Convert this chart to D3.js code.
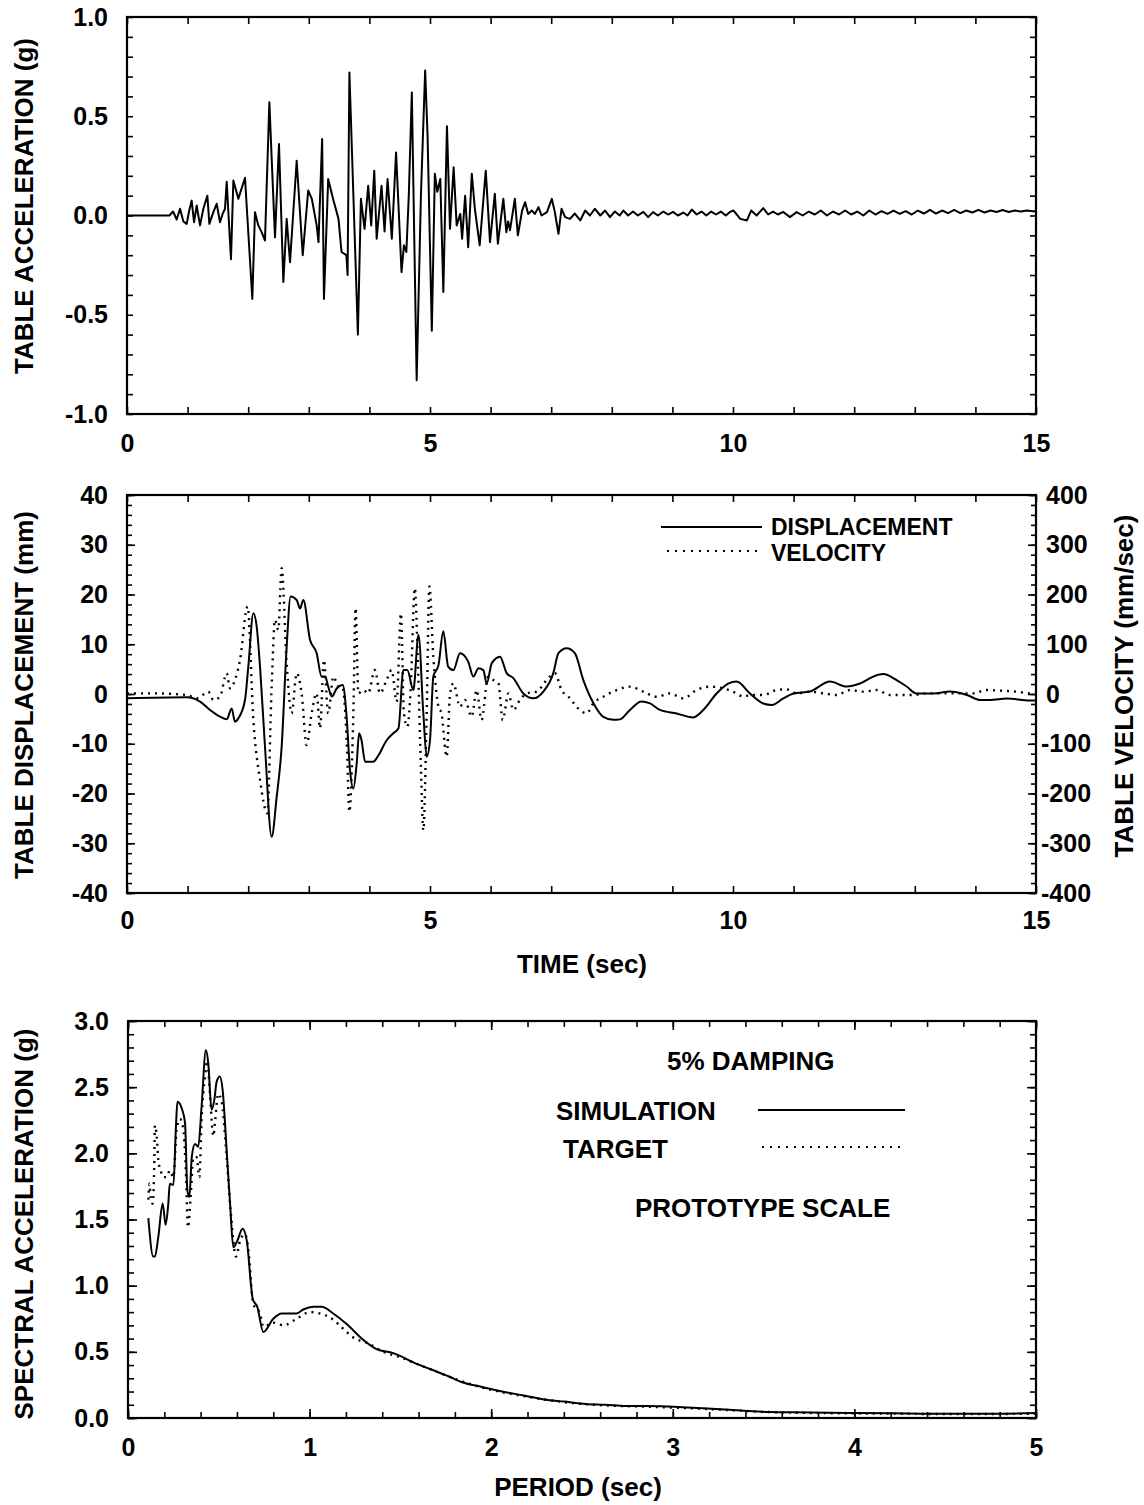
<!DOCTYPE html>
<html><head><meta charset="utf-8">
<script src="https://cdn.jsdelivr.net/npm/d3@7"></script>
<style>
body{margin:0;background:#fff}
text{font-family:"Liberation Sans",Arial,Helvetica,sans-serif;font-weight:bold;fill:#000}
</style>
</head><body>
<svg id="c" width="1144" height="1505"></svg>
<script>
// ---------- DATA ----------
const accTime = [
0,0.70,0.76,0.82,0.875,0.93,0.985,1.03,1.067,1.106,
1.15,1.205,1.26,1.326,1.359,1.425,1.48,1.535,1.58,1.617,
1.645,1.716,1.755,1.837,1.947,2.068,2.112,2.167,2.222,2.277,
2.349,2.442,2.508,2.58,2.635,2.69,2.80,2.90,2.99,3.05,
3.13,3.16,3.22,3.25,3.32,3.40,3.49,3.54,3.62,3.64,
3.67,3.81,3.86,3.92,3.98,4.03,4.08,4.12,4.20,4.25,
4.30,4.37,4.44,4.53,4.57,4.61,4.65,4.70,4.78,4.85,
4.92,4.96,5.03,5.08,5.12,5.17,5.22,5.28,5.33,5.39,
5.44,5.50,5.53,5.58,5.63,5.69,5.74,5.82,5.92,5.99,
6.07,6.12,6.21,6.26,6.29,6.32,6.40,6.45,6.52,6.57,
6.62,6.68,6.73,6.79,6.84,6.93,7.01,7.06,7.12,7.17,
7.23,7.31,7.39,7.48,7.56,7.64,7.72,7.81,7.89,7.97,
8.05,8.13,8.19,8.27,8.35,8.43,8.52,8.60,8.68,8.76,
8.85,8.93,9.01,9.09,9.18,9.25,9.32,9.40,9.48,9.56,
9.64,9.72,9.80,9.88,9.95,10.01,10.12,10.23,10.30,10.39,
10.50,10.58,10.66,10.74,10.83,10.94,11.05,11.15,11.25,11.35,
11.45,11.55,11.65,11.75,11.85,11.95,12.05,12.15,12.25,12.35,
12.45,12.55,12.65,12.75,12.85,12.95,13.05,13.15,13.25,13.35,
13.45,13.55,13.65,13.75,13.85,13.95,14.05,14.15,14.25,14.35,
14.45,14.55,14.65,14.75,14.85,14.95,15.0];
const accValue = [
0,0,0.02,-0.02,0.034,-0.03,-0.042,0.03,0.075,-0.034,
0.05,-0.05,0.034,0.10,-0.042,0.017,0.059,-0.034,0.01,0.034,
0.17,-0.22,0.176,0.084,0.19,-0.42,0.017,-0.05,-0.084,-0.126,
0.57,-0.11,0.36,-0.335,-0.017,-0.235,0.276,-0.20,0.126,0.084,
-0.05,-0.134,0.385,-0.42,0.184,0.084,-0.017,-0.184,-0.20,-0.30,
0.72,-0.60,0.084,-0.067,0.15,-0.05,0.226,-0.117,0.15,-0.08,
0.184,-0.117,0.318,-0.285,-0.15,-0.184,0.1,0.62,-0.83,0.1,
0.73,0.4,-0.58,0.21,0.12,0.184,-0.385,0.45,-0.067,0.243,
-0.05,0.008,-0.117,0.10,-0.16,0.21,0.034,-0.15,0.226,-0.134,
0.109,-0.142,0.084,-0.084,-0.03,-0.075,0.084,-0.10,0.025,0.067,
0.008,0.025,0.008,0.042,0,0.017,0.084,0.017,-0.092,0.034,
-0.008,-0.017,0.01,-0.025,0.025,0,0.034,0,0.025,-0.008,
0.02,0,0.025,0,0.02,0,0.018,-0.008,0.017,0,
0.02,0.005,0.018,0,0.015,0,0.03,0.005,0.02,0,
0.02,0.005,0.02,0,0.018,0.025,-0.017,-0.025,0.025,0,
0.037,0.005,0.02,0.005,0.018,-0.008,0.017,0,0.02,0.005,
0.025,0,0.02,0.005,0.025,0.005,0.02,0,0.025,0.005,
0.022,0.008,0.025,0.008,0.022,0.005,0.025,0.01,0.028,0.01,
0.025,0.012,0.028,0.012,0.025,0.015,0.028,0.015,0.025,0.018,
0.028,0.018,0.025,0.02,0.025,0.022,0.022];

const dispTime = [
0,0.985,1.205,1.37,1.535,1.645,1.727,1.782,1.837,1.947,
2.002,2.085,2.14,2.195,2.277,2.387,2.47,2.552,2.635,2.70,
2.80,2.855,2.91,3.02,3.13,3.21,3.27,3.32,3.38,3.46,
3.56,3.62,3.68,3.735,3.79,3.83,3.87,3.93,4.065,4.15,
4.285,4.395,4.48,4.56,4.625,4.725,4.81,4.89,4.945,5.0,
5.055,5.14,5.22,5.30,5.385,5.495,5.63,5.715,5.80,5.88,
5.935,6.02,6.155,6.265,6.375,6.54,6.705,6.87,7.035,7.12,
7.255,7.39,7.53,7.70,7.86,8.025,8.135,8.30,8.49,8.63,
8.795,9.07,9.345,9.51,9.73,9.92,10.06,10.28,10.50,10.64,
10.83,11.0,11.27,11.60,11.875,12.095,12.315,12.48,12.70,12.866,
13.03,13.31,13.58,13.86,14.08,14.24,14.52,14.9,15.0];
const dispValue = [
-0.87,-0.67,-1.54,-3.22,-4.56,-5.10,-2.89,-5.57,-4.90,-1.21,
5.50,16.24,13.56,5.50,-10.6,-28.7,-20.7,-10.6,9.53,19.6,
18.9,17.2,18.9,10.9,8.2,3.5,3.5,1.5,-0.5,1.1,
1.8,-3.9,-15.3,-19.0,-14.0,-7.9,-9.3,-13.6,-13.6,-12.3,
-9.3,-7.9,-6.9,4.8,4.8,0.8,11.9,-3.9,-12.6,-9.3,
3.5,5.8,12.6,5.5,4.8,8.2,6.5,3.5,5.2,4.8,
2.1,6.2,7.5,4.2,3.2,0.1,-0.87,0.5,4.2,8.2,
9.2,8.2,2.8,-1.9,-4.6,-5.2,-5.1,-3.2,-1.5,-1.9,
-3.2,-3.9,-4.7,-3.2,0.1,2.1,2.5,0.1,-1.9,-2.2,
-0.9,0.1,0.5,2.5,1.5,2.1,3.5,4.0,2.8,1.5,
0.1,0.1,0.5,-0.2,-1.2,-1.2,-0.9,-1.3,-1.3];

const velTime = [
0,0.435,0.985,1.15,1.287,1.342,1.425,1.535,1.645,1.70,
1.782,1.865,1.99,2.085,2.195,2.316,2.387,2.442,2.497,2.552,
2.635,2.717,2.80,2.882,2.965,3.047,3.13,3.185,3.25,3.32,
3.405,3.487,3.56,3.625,3.67,3.735,3.773,3.817,3.90,3.98,
4.09,4.175,4.285,4.367,4.45,4.52,4.57,4.626,4.68,4.75,
4.80,4.85,4.89,4.945,4.99,5.055,5.14,5.19,5.275,5.33,
5.385,5.495,5.577,5.687,5.77,5.85,5.96,6.045,6.128,6.20,
6.293,6.375,6.485,6.595,6.76,6.925,7.063,7.17,7.283,7.475,
7.585,7.695,7.86,8.08,8.30,8.52,8.74,8.96,9.18,9.40,
9.62,9.84,10.06,10.17,10.28,10.50,10.72,10.885,11.05,11.27,
11.49,11.71,11.93,12.15,12.37,12.59,12.976,13.196,13.58,13.966,
14.186,14.41,14.68,14.9,15.0];
const velValue = [
1.3,1.3,-2,-8.7,1.3,4.7,-12,-5.4,41.6,11.4,
28.2,68.5,176,-52,-173,-240,14.8,149,129,253,
61.7,-38.9,41.6,1.3,-102.7,-38.9,1.3,-69,68.5,-38.9,
34.9,14.8,11.4,-92.6,-237,-38.9,172.5,1.3,8,1.3,
48.3,1.3,28.2,48.3,-15.4,162,-38.9,-65.8,8,212.8,
61.7,-146,-274,-38.9,216,75,-25.5,-38.9,-126,-2,
21.5,-25.5,-12,-45.6,8,-52.3,34.9,28.2,21.5,-52.3,
1.3,-32.2,-12,1.3,4.7,28.2,41.6,8,-5.4,-32.2,
-38.9,-18.8,-5.4,8,14.8,4.7,-5.4,1.3,-8.7,8,
14.8,11.4,1.3,-5.4,-2,-2,8,9.4,1.3,4.7,
1.3,-2,8,4.7,8,-2,-2,1.3,1.3,1.3,
8,6.7,4.7,1.3,1.3];

const simPeriod = [
0.112,0.139,0.148,0.167,0.191,0.207,0.222,0.23,0.25,0.264,
0.272,0.296,0.314,0.327,0.338,0.351,0.369,0.387,0.405,0.429,
0.442,0.46,0.475,0.488,0.506,0.521,0.543,0.562,0.58,0.602,
0.631,0.654,0.687,0.712,0.745,0.80,0.846,0.929,0.965,1.021,
1.066,1.13,1.204,1.296,1.369,1.461,1.498,1.571,1.663,1.773,
1.84,1.95,2.06,2.18,2.29,2.40,2.52,2.63,2.74,2.86,
2.97,3.08,3.19,3.31,3.42,3.53,3.76,3.99,4.21,4.44,
4.66,5.0];
const simSa = [
1.51,1.22,1.22,1.37,1.62,1.46,1.62,1.77,1.76,2.20,
2.39,2.34,2.23,1.72,1.67,1.97,2.07,2.05,2.35,2.78,
2.68,2.33,2.40,2.54,2.58,2.48,2.03,1.62,1.29,1.34,
1.43,1.34,0.90,0.84,0.65,0.75,0.79,0.79,0.82,0.84,
0.84,0.79,0.71,0.59,0.52,0.49,0.47,0.42,0.37,0.31,
0.27,0.235,0.20,0.17,0.14,0.124,0.106,0.10,0.09,0.09,
0.087,0.08,0.072,0.062,0.052,0.045,0.042,0.037,0.035,0.032,
0.032,0.037];

const targetPeriod = [
0.112,0.118,0.125,0.136,0.145,0.148,0.158,0.167,0.18,0.194,
0.213,0.23,0.25,0.268,0.286,0.305,0.32,0.33,0.345,0.36,
0.378,0.393,0.405,0.424,0.437,0.451,0.47,0.48,0.497,0.516,
0.54,0.565,0.595,0.617,0.644,0.663,0.69,0.727,0.745,0.80,
0.855,0.929,1.002,1.057,1.112,1.158,1.204,1.25,1.314,1.406,
1.498,1.589,1.681,1.773,1.95,2.18,2.40,2.63,2.86,3.08,
3.31,3.53,3.76,3.99,4.21,4.44,4.66,5.0];
const targetSa = [
1.65,1.77,1.67,1.62,1.95,2.21,2.13,1.95,1.87,1.82,
1.82,1.87,1.82,2.18,2.26,2.18,1.82,1.44,1.67,1.97,
1.97,1.82,2.25,2.58,2.70,2.45,2.13,2.25,2.45,2.39,
2.03,1.57,1.22,1.34,1.39,1.27,0.86,0.79,0.69,0.72,
0.70,0.75,0.80,0.79,0.76,0.71,0.65,0.60,0.57,0.50,
0.46,0.41,0.36,0.31,0.23,0.165,0.12,0.095,0.085,0.075,
0.06,0.045,0.038,0.035,0.033,0.03,0.03,0.032];

// tick labels
const timeTicks = [0,5,10,15];
const accTicks = [-1.0,-0.5,0.0,0.5,1.0];
const dispTicks = [-40,-30,-20,-10,0,10,20,30,40];
const velTicks = [-400,-300,-200,-100,0,100,200,300,400];
const periodTicks = [0,1,2,3,4,5];
const saTicks = [0.0,0.5,1.0,1.5,2.0,2.5,3.0];

// ---------- DRAWING ----------
const svg = d3.select("#c");
const TICK_FS = 25, TITLE_FS = 26;

function tickSet(gen, scale, vals, len, tx, ty){
  svg.append("g").attr("transform",`translate(${tx},${ty})`)
    .call(gen(scale).tickValues(vals).tickSizeInner(-len).tickSizeOuter(0).tickFormat(""))
    .call(g=>{g.select(".domain").remove();
      g.selectAll("line").attr("stroke","#000").attr("stroke-width",1.6);});
}
function labelSet(gen, scale, vals, fmt, pad, tx, ty){
  return svg.append("g").attr("transform",`translate(${tx},${ty})`)
    .call(gen(scale).tickValues(vals).tickSize(0).tickPadding(pad).tickFormat(fmt))
    .call(g=>{g.select(".domain").remove();
      g.attr("font-size",TICK_FS).attr("font-family",null);
      g.selectAll("text").attr("fill","#000");});
}
function frame(x0,x1,y0,y1){
  svg.append("rect").attr("x",x0).attr("y",y0).attr("width",x1-x0).attr("height",y1-y0)
    .attr("fill","none").attr("stroke","#000").attr("stroke-width",2.2);
}
function vtitle(txt,cx,cy){
  svg.append("text").attr("transform",`translate(${cx},${cy}) rotate(-90)`)
    .attr("text-anchor","middle").attr("dominant-baseline","central")
    .attr("font-size",TITLE_FS).text(txt);
}
function htext(txt,x,y,anchor,fs){
  svg.append("text").attr("x",x).attr("y",y).attr("text-anchor",anchor||"start")
    .attr("font-size",fs||TITLE_FS).text(txt);
}
const fmt1 = d => d.toFixed(1);
const fmt0 = d => String(d);

// ---- Panel 1 ----
{
  const X0=127,X1=1036,Y0=17,Y1=414;
  const x=d3.scaleLinear().domain([0,15]).range([X0,X1]);
  const y=d3.scaleLinear().domain([-1,1]).range([Y1,Y0]);
  const line=d3.line().x(i=>x(accTime[i])).y(i=>y(accValue[i]));
  svg.append("path").attr("d",line(d3.range(accTime.length)))
    .attr("fill","none").attr("stroke","#000").attr("stroke-width",2).attr("stroke-linejoin","round");
  const xt=d3.range(0,15.001,1), yt=d3.range(-10,10.5,1).map(v=>v/10);
  tickSet(d3.axisBottom,x,xt,7,0,Y1);
  tickSet(d3.axisTop,x,xt,7,0,Y0);
  tickSet(d3.axisLeft,y,yt,6,X0,0);
  tickSet(d3.axisRight,y,yt,6,X1,0);
  frame(X0,X1,Y0,Y1);
  labelSet(d3.axisLeft,y,accTicks,fmt1,19,X0,0);
  labelSet(d3.axisBottom,x,timeTicks,fmt0,20,0,Y1);
  vtitle("TABLE ACCELERATION (g)",24,206);
}

// ---- Panel 2 ----
{
  const X0=127,X1=1036,Y0=495,Y1=893;
  const x=d3.scaleLinear().domain([0,15]).range([X0,X1]);
  const y=d3.scaleLinear().domain([-40,40]).range([Y1,Y0]);
  const yv=d3.scaleLinear().domain([-400,400]).range([Y1,Y0]);
  const dl=d3.line().curve(d3.curveMonotoneX).x(i=>x(dispTime[i])).y(i=>y(dispValue[i]));
  const vl=d3.line().curve(d3.curveMonotoneX).x(i=>x(velTime[i])).y(i=>yv(velValue[i]));
  svg.append("path").attr("d",vl(d3.range(velTime.length)))
    .attr("fill","none").attr("stroke","#000").attr("stroke-width",2.4).attr("stroke-dasharray","2,5");
  svg.append("path").attr("d",dl(d3.range(dispTime.length)))
    .attr("fill","none").attr("stroke","#000").attr("stroke-width",2).attr("stroke-linejoin","round");
  const xt=d3.range(0,15.001,1);
  const minor=d3.range(-40,40.1,2), major=d3.range(-40,40.1,10);
  const vminor=d3.range(-400,401,20), vmajor=d3.range(-400,401,100);
  tickSet(d3.axisBottom,x,xt,7,0,Y1);
  tickSet(d3.axisTop,x,xt,7,0,Y0);
  tickSet(d3.axisLeft,y,minor,5,X0,0);
  tickSet(d3.axisLeft,y,major,8,X0,0);
  tickSet(d3.axisRight,yv,vminor,5,X1,0);
  tickSet(d3.axisRight,yv,vmajor,8,X1,0);
  frame(X0,X1,Y0,Y1);
  labelSet(d3.axisLeft,y,dispTicks,fmt0,19,X0,0);
  const rl=labelSet(d3.axisRight,yv,velTicks,fmt0,8,X1,0);
  rl.selectAll("text").attr("dx",d=>d<0?-3:2);
  labelSet(d3.axisBottom,x,timeTicks,fmt0,18,0,Y1);
  vtitle("TABLE DISPLACEMENT (mm)",24,695);
  vtitle("TABLE VELOCITY (mm/sec)",1124,686);
  htext("TIME (sec)",582,973,"middle");
  // legend
  svg.append("line").attr("x1",661).attr("x2",762).attr("y1",527).attr("y2",527)
    .attr("stroke","#000").attr("stroke-width",2);
  svg.append("line").attr("x1",667).attr("x2",757).attr("y1",551).attr("y2",551)
    .attr("stroke","#000").attr("stroke-width",2.2).attr("stroke-dasharray","2,6");
  htext("DISPLACEMENT",771,535,"start",23);
  htext("VELOCITY",771,561,"start",23);
}

// ---- Panel 3 ----
{
  const X0=128,X1=1036,Y0=1021,Y1=1418;
  const x=d3.scaleLinear().domain([0,5]).range([X0,X1]);
  const y=d3.scaleLinear().domain([0,3]).range([Y1,Y0]);
  const sl=d3.line().curve(d3.curveMonotoneX).x(i=>x(simPeriod[i])).y(i=>y(simSa[i]));
  const tl=d3.line().curve(d3.curveMonotoneX).x(i=>x(targetPeriod[i])).y(i=>y(targetSa[i]));
  svg.append("path").attr("d",tl(d3.range(targetPeriod.length)))
    .attr("fill","none").attr("stroke","#000").attr("stroke-width",2.4).attr("stroke-dasharray","2,5");
  svg.append("path").attr("d",sl(d3.range(simPeriod.length)))
    .attr("fill","none").attr("stroke","#000").attr("stroke-width",2).attr("stroke-linejoin","round");
  const xminor=d3.range(0,26,1).map(v=>v/5), xmajor=d3.range(0,5.001,1);
  const yminor=d3.range(0,31,1).map(v=>v/10), ymajor=d3.range(0,3.001,0.5);
  tickSet(d3.axisBottom,x,xminor,6,0,Y1);
  tickSet(d3.axisBottom,x,xmajor,9,0,Y1);
  tickSet(d3.axisTop,x,xminor,6,0,Y0);
  tickSet(d3.axisTop,x,xmajor,9,0,Y0);
  tickSet(d3.axisLeft,y,yminor,6,X0,0);
  tickSet(d3.axisLeft,y,ymajor,9,X0,0);
  tickSet(d3.axisRight,y,yminor,6,X1,0);
  tickSet(d3.axisRight,y,ymajor,9,X1,0);
  frame(X0,X1,Y0,Y1);
  labelSet(d3.axisLeft,y,saTicks,fmt1,19,X0,0);
  labelSet(d3.axisBottom,x,periodTicks,fmt0,20,0,Y1);
  vtitle("SPECTRAL ACCELERATION (g)",24,1224);
  htext("PERIOD (sec)",578,1496,"middle");
  // legend / notes
  htext("5% DAMPING",667,1070,"start");
  htext("SIMULATION",556,1120,"start");
  htext("TARGET",563,1158,"start");
  htext("PROTOTYPE SCALE",635,1217,"start");
  svg.append("line").attr("x1",758).attr("x2",905).attr("y1",1110).attr("y2",1110)
    .attr("stroke","#000").attr("stroke-width",2);
  svg.append("line").attr("x1",762).attr("x2",904).attr("y1",1147).attr("y2",1147)
    .attr("stroke","#000").attr("stroke-width",2.2).attr("stroke-dasharray","2,6");
}
</script>
</body></html>
